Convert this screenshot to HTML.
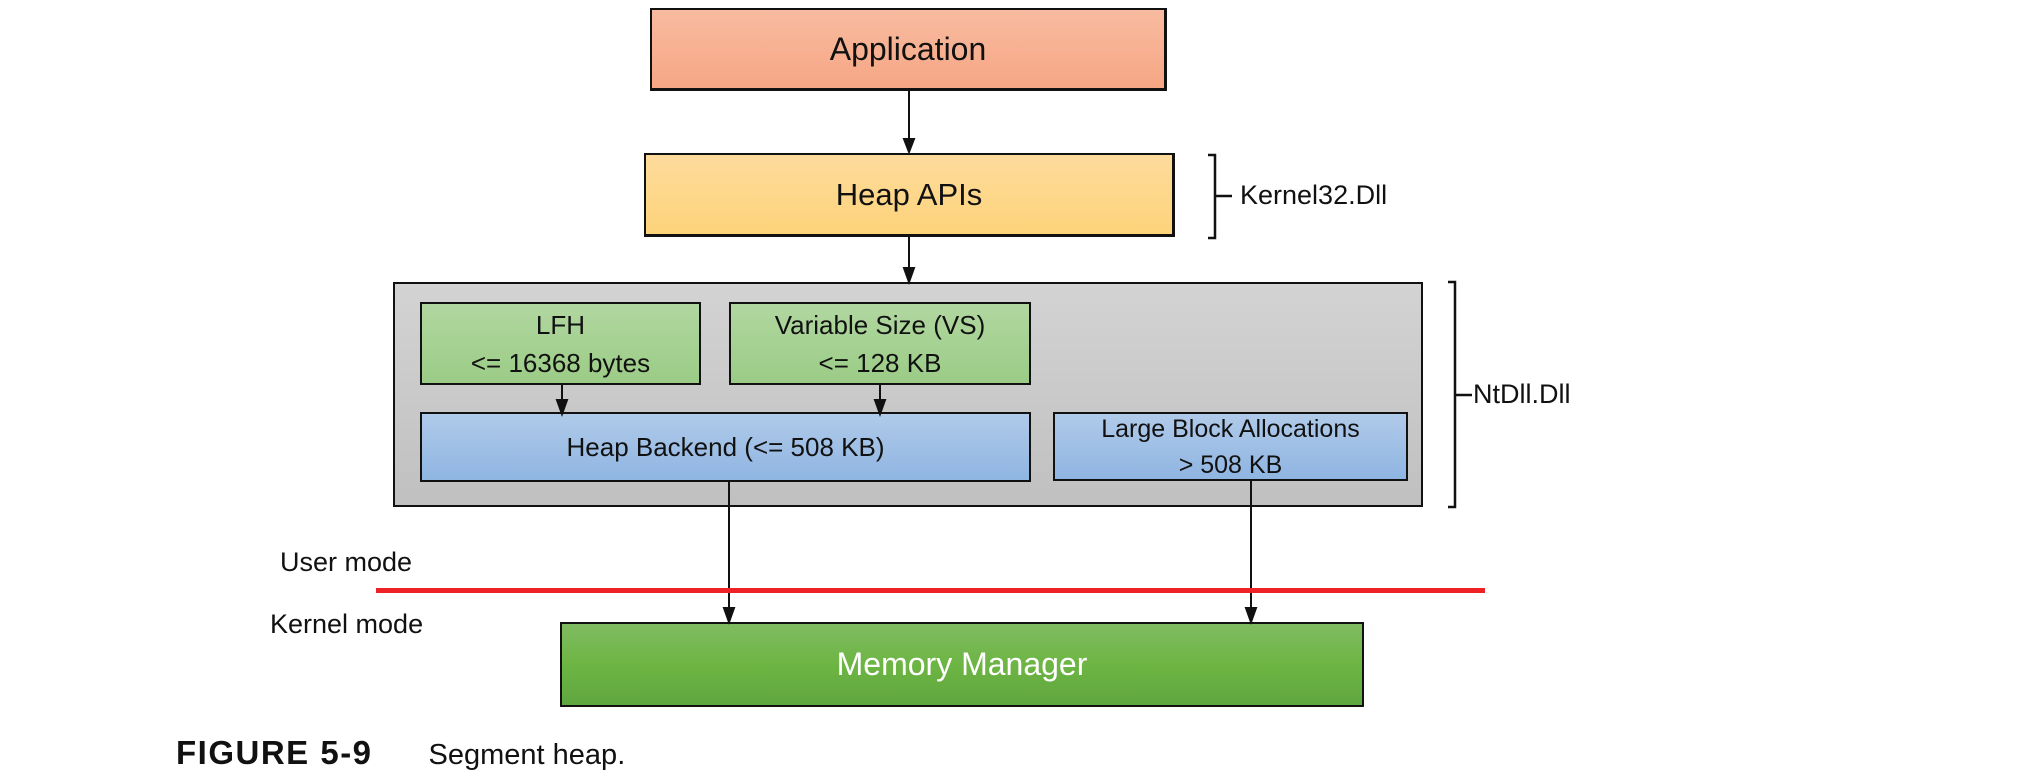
<!DOCTYPE html>
<html><head><meta charset="utf-8"><style>
body{margin:0;width:2018px;height:778px;background:#fff;position:relative;overflow:hidden;font-family:"Liberation Sans",sans-serif;color:#111}
.b{position:absolute;box-sizing:border-box;border:2px solid #111;display:flex;flex-direction:column;align-items:center;justify-content:center;text-align:center}
.t{position:absolute;white-space:nowrap}
</style></head><body>
<div class="b" style="left:650px;top:8px;width:517px;height:83px;background:linear-gradient(#f8bba0,#f6a684);font-size:32px;border-width:2px 3px 3px 2px">Application</div>
<div class="b" style="left:644px;top:153px;width:531px;height:84px;background:linear-gradient(#fddb9c,#fdd37a);font-size:31px;border-width:2px 3px 3px 2px">Heap APIs</div>
<div class="b" style="left:393px;top:282px;width:1030px;height:225px;background:linear-gradient(#d3d3d3,#c0c0c0);border-width:2px 2px 2px 2px"></div>
<div class="b" style="left:420px;top:302px;width:281px;height:83px;background:linear-gradient(#b1d7a0,#9bcc86);font-size:26px;line-height:38px">LFH<br>&lt;= 16368 bytes</div>
<div class="b" style="left:729px;top:302px;width:302px;height:83px;background:linear-gradient(#b1d7a0,#9bcc86);font-size:26px;line-height:38px">Variable Size (VS)<br>&lt;= 128 KB</div>
<div class="b" style="left:420px;top:412px;width:611px;height:70px;background:linear-gradient(#b0cae9,#8fb5e2);font-size:26px">Heap Backend (&lt;= 508 KB)</div>
<div class="b" style="left:1053px;top:412px;width:355px;height:69px;background:linear-gradient(#b0cae9,#8fb5e2);font-size:25px;line-height:36px">Large Block Allocations<br>&gt; 508 KB</div>
<div class="b" style="left:560px;top:622px;width:804px;height:85px;background:linear-gradient(#80bb62,#6db543 50%,#60a640);color:#fff;font-size:32px">Memory Manager</div>
<svg width="2018" height="778" style="position:absolute;left:0;top:0">
<g stroke="#111" stroke-width="2" fill="none">
<path d="M909 91V150"/><path d="M904 139L909 152L914 139z" fill="#111"/>
<path d="M909 237V279"/><path d="M904 268L909 282L914 268z" fill="#111"/>
<path d="M562 385V409"/><path d="M557 400L562 414L567 400z" fill="#111"/>
<path d="M880 385V409"/><path d="M875 400L880 414L885 400z" fill="#111"/>
<path d="M729 482V620"/><path d="M724 608L729 622L734 608z" fill="#111"/>
<path d="M1251 481V620"/><path d="M1246 608L1251 622L1256 608z" fill="#111"/>
<path d="M1208 155H1215V238H1208M1215 196H1232" stroke-width="2.5"/>
<path d="M1448 282H1455V507H1448M1455 395H1472" stroke-width="2.5"/>
</g>
<rect x="376" y="588" width="1109" height="5" fill="#ee2127"/>
</svg>
<div class="t" style="left:1240px;top:180px;font-size:27px">Kernel32.Dll</div>
<div class="t" style="left:1473px;top:379px;font-size:27px">NtDll.Dll</div>
<div class="t" style="left:280px;top:547px;font-size:27px">User mode</div>
<div class="t" style="left:270px;top:609px;font-size:27px">Kernel mode</div>
<div class="t" style="left:176px;top:734px;font-size:29px"><b style="font-size:33px;letter-spacing:1.5px">FIGURE 5-9</b><span style="margin-left:56px">Segment heap.</span></div>
</body></html>
